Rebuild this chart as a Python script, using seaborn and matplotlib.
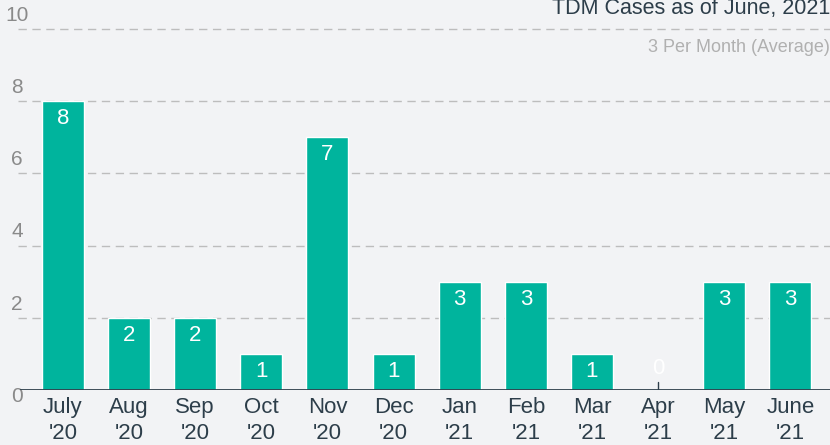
import matplotlib
matplotlib.use("Agg")
import matplotlib.pyplot as plt
import matplotlib.transforms as mtransforms
import seaborn as sns
import pandas as pd

months = ["July", "Aug", "Sep", "Oct", "Nov", "Dec", "Jan", "Feb", "Mar", "Apr", "May", "June"]
years = ["'20", "'20", "'20", "'20", "'20", "'20", "'21", "'21", "'21", "'21", "'21", "'21"]
cases = [8, 2, 2, 1, 7, 1, 3, 3, 1, 0, 3, 3]
yticks = [0, 2, 4, 6, 8, 10]
title = "TDM Cases as of June, 2021"
subtitle = "3 Per Month (Average)"

sns.set_theme(style="white")
plt.rcParams["font.family"] = ["Liberation Sans", "DejaVu Sans"]

BG = "#f2f3f5"
BAR = "#00b49d"
DARK = "#2d3e4a"
GRID = "#bdbdbd"

labels = [f"{m}\n{y}" for m, y in zip(months, years)]
df = pd.DataFrame({"label": labels, "cases": cases})

fig = plt.figure(figsize=(8.3, 4.45), dpi=100, facecolor=BG)
ax = fig.add_axes([20 / 830, 55 / 445, 810 / 830, 390 / 445])
ax.set_facecolor(BG)

sns.barplot(data=df, x="label", y="cases", color=BAR, width=0.635,
            saturation=1, ax=ax, zorder=3)

ax.set_xlim(-0.65, 11.6)
ax.set_ylim(0, 10.8)
for s in ax.spines.values():
    s.set_visible(False)
ax.set_xlabel("")
ax.set_ylabel("")
ax.set_yticks([])
ax.tick_params(axis="x", length=0, pad=5, labelsize=16, labelcolor=DARK)
for t in ax.get_xticklabels():
    t.set_linespacing(1.3)

# grid lines
for v in yticks[1:]:
    ax.axhline(v, color=GRID, lw=1, ls=(0, (6, 4)), zorder=1,
               xmin=-2 / 810, clip_on=False)
ax.axhline(0, color=DARK, lw=2, zorder=4, xmin=0, xmax=1)

# y labels (above grid lines)
for v in yticks:
    if v == 0:
        off = mtransforms.offset_copy(ax.transData, fig=fig, x=-2, y=-5, units="points")
        ax.text(-0.65, v, str(v), transform=off, ha="center", va="center",
                fontsize=15, color="#8a8a8a")
    else:
        off = mtransforms.offset_copy(ax.transData, fig=fig, x=-2, y=3, units="points")
        ax.text(-0.65, v, str(v), transform=off, ha="center", va="bottom",
                fontsize=15, color="#8a8a8a")

# value labels
for i, v in enumerate(cases):
    if v > 0:
        off = mtransforms.offset_copy(ax.transData, fig=fig, x=0, y=-5, units="points")
        ax.text(i, v, str(v), transform=off, ha="center", va="top",
                fontsize=16, color="white", zorder=5)
    else:
        off = mtransforms.offset_copy(ax.transData, fig=fig, x=0, y=8, units="points")
        ax.text(i, v, str(v), transform=off, ha="center", va="bottom",
                fontsize=16, color="white", zorder=5)
        ax.plot([i, i], [0, 0.22], color=DARK, lw=1, zorder=4)

ax.text(1.0, 10.42, title, transform=ax.get_yaxis_transform(), ha="right",
        va="baseline", fontsize=15.5, color=DARK)
ax.text(1.0, 9.36, subtitle, transform=ax.get_yaxis_transform(), ha="right",
        va="baseline", fontsize=13, color="#b0b0b0")

fig.savefig("out.png", dpi=100, facecolor=BG)
